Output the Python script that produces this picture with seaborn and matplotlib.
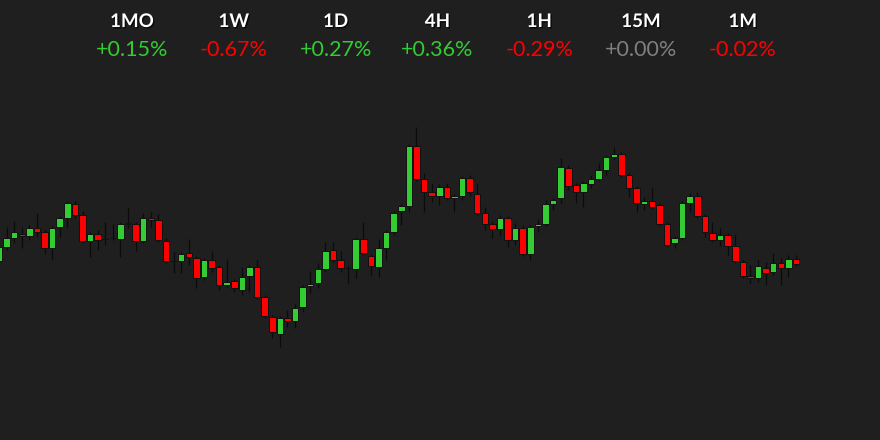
import matplotlib
matplotlib.use('Agg')
import matplotlib.pyplot as plt
import matplotlib.patheffects as pe
import seaborn as sns
import numpy as np
import pandas as pd

# candle values (arbitrary price units)
opens = [179, 193, 202, 206, 204, 212, 208, 192, 213, 222, 236, 225, 199, 206, 201, 202,
         201, 216, 216, 199, 222, 220, 199, 179, 179, 187, 182, 163, 180, 173, 155, 159,
         150, 164, 173, 143, 123, 106, 122, 119, 133, 154, 157, 171, 190, 180, 172, 171,
         201, 184, 173, 192, 208, 229, 234, 294, 261, 248, 244, 253, 242, 244, 262, 246,
         227, 216, 211, 222, 200, 212, 186, 214, 216, 236, 242, 272, 255, 248, 256, 261,
         270, 283, 286, 265, 252, 236, 239, 235, 216, 197, 202, 237, 244, 224, 207, 200,
         205, 194, 178, 164, 162, 172, 168, 177, 172, 181]
highs = [195, 213, 219, 213, 215, 227, 210, 214, 224, 239, 239, 229, 208, 210, 218, 216,
         218, 232, 218, 227, 228, 226, 202, 188, 188, 201, 184, 182, 189, 175, 181, 161,
         173, 175, 180, 145, 125, 124, 130, 136, 155, 169, 177, 198, 198, 189, 174, 203,
         218, 186, 201, 210, 229, 236, 296, 313, 267, 257, 256, 257, 246, 264, 265, 257,
         233, 218, 225, 224, 217, 215, 215, 221, 240, 242, 282, 275, 257, 259, 265, 277,
         285, 293, 288, 267, 254, 243, 252, 237, 218, 204, 239, 247, 248, 226, 218, 212,
         207, 205, 180, 175, 180, 178, 187, 182, 185, 185]
lows = [177, 190, 197, 192, 200, 203, 186, 181, 203, 213, 222, 197, 183, 190, 195, 200,
        183, 212, 189, 197, 213, 198, 177, 167, 167, 175, 152, 160, 168, 150, 153, 148,
        145, 148, 141, 122, 102, 93, 113, 112, 128, 147, 152, 169, 178, 168, 157, 162,
        185, 165, 163, 180, 205, 215, 228, 259, 228, 238, 235, 240, 228, 240, 244, 225,
        210, 202, 205, 193, 195, 184, 180, 208, 214, 230, 237, 250, 237, 233, 252, 259,
        265, 281, 263, 243, 228, 230, 231, 214, 193, 192, 200, 228, 222, 203, 198, 194,
        185, 177, 162, 157, 158, 155, 165, 155, 163, 174]
closes = [193, 202, 208, 204, 212, 208, 192, 212, 222, 237, 225, 199, 206, 200, 201, 202,
          216, 217, 199, 222, 220, 200, 179, 179, 186, 183, 162, 180, 172, 155, 158, 152,
          163, 173, 143, 124, 108, 122, 119, 132, 153, 156, 171, 189, 180, 172, 172, 201,
          187, 174, 192, 208, 227, 234, 294, 261, 248, 244, 253, 242, 244, 262, 248, 227,
          216, 211, 222, 200, 212, 186, 213, 216, 236, 240, 273, 254, 248, 257, 261, 270,
          283, 286, 265, 252, 237, 239, 233, 216, 195, 202, 237, 244, 224, 208, 200, 205,
          194, 179, 164, 162, 174, 167, 177, 172, 181, 176]

periods = ['1MO', '1W', '1D', '4H', '1H', '15M', '1M']
changes = [0.15, -0.67, 0.27, 0.36, -0.29, 0.00, -0.02]

BG = '#1f1f1f'
UP = '#33cc33'
DOWN = '#ff0000'
FLAT = '#808080'

sns.set_theme(style='dark', rc={'axes.facecolor': BG, 'figure.facecolor': BG})
plt.rcParams['font.family'] = ['Lato', 'DejaVu Sans']

df = pd.DataFrame({'open': opens, 'high': highs, 'low': lows, 'close': closes})
df['idx'] = np.arange(len(df))
df['move'] = df['close'] - df['open']
df['color'] = np.where(df['move'] > 0, UP, np.where(df['move'] < 0, DOWN, '#0d0d0d'))

fig = plt.figure(figsize=(8.8, 4.4), dpi=100)
ax = fig.add_axes([0, 0, 1, 1])

ax.vlines(df['idx'], df['low'], df['high'], color='#0b0b0b', linewidth=0.9, zorder=1)
ax.bar(df['idx'], df['move'], bottom=df['open'], width=0.86, color=df['color'],
       edgecolor='#111111', linewidth=0.7, zorder=2)

ax.set_xlim(0.13, 116.07)
ax.set_ylim(0, 440)
ax.set_axis_off()

# header: period labels and percentage change
xs = 132 + 101.8 * np.arange(len(periods))
for x, name, ch in zip(xs, periods, changes):
    col = UP if ch > 0 else (DOWN if ch < 0 else FLAT)
    fig.text(x / 880, 1 - 27 / 440, name, ha='center', va='baseline', color='white',
             fontsize=13.5, fontweight='bold',
             path_effects=[pe.withSimplePatchShadow(offset=(1, -1), shadow_rgbFace='black', alpha=0.7)])
    fig.text(x / 880, 1 - 56 / 440, f"{ch:+.2f}%", ha='center', va='baseline', color=col,
             fontsize=15.5)

fig.savefig('out.png', dpi=100, facecolor=BG)
